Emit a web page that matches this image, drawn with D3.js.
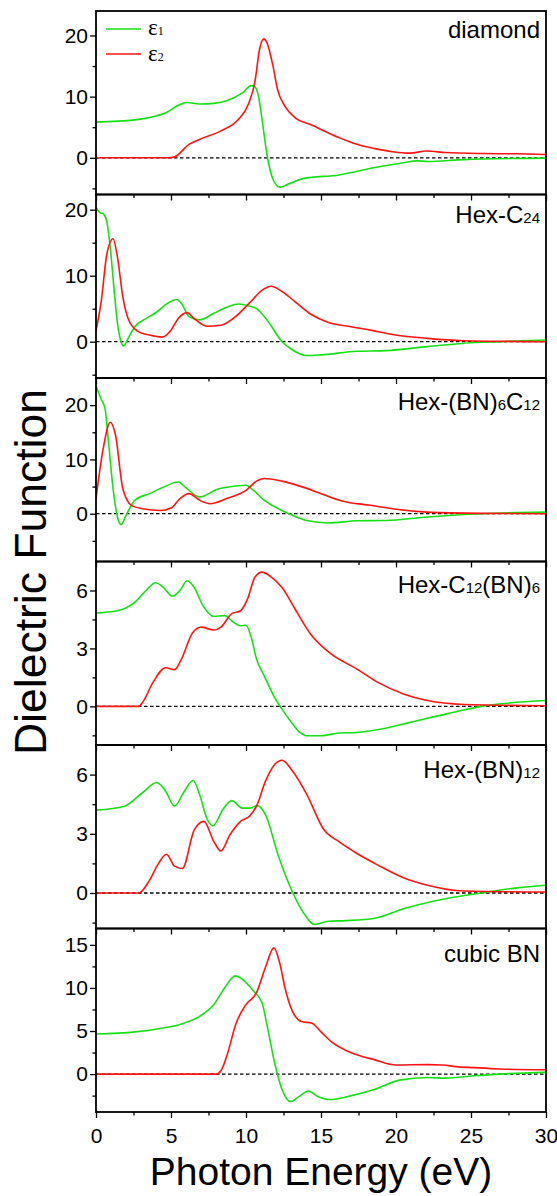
<!DOCTYPE html>
<html><head><meta charset="utf-8">
<script src="https://cdn.jsdelivr.net/npm/d3@7"></script>
<style>html,body{margin:0;padding:0;background:#fff;}svg{display:block;}</style>
</head><body><svg id="c" width="557" height="1196"></svg>
<script>
// ---------- DATA ----------
const xTicks = [0, 5, 10, 15, 20, 25, 30];
const xMinor = [2.5, 7.5, 12.5, 17.5, 22.5, 27.5];
const xTitle = "Photon Energy (eV)";
const yTitle = "Dielectric Function";
const seriesNames = ["ε1", "ε2"];

const panelNames = [
  [["diamond", 0]],
  [["Hex-C", 0], ["24", 1]],
  [["Hex-(BN)", 0], ["6", 1], ["C", 0], ["12", 1]],
  [["Hex-C", 0], ["12", 1], ["(BN)", 0], ["6", 1]],
  [["Hex-(BN)", 0], ["12", 1]],
  [["cubic BN", 0]]
];
const yDomains = [[-6, 24], [-5.5, 22.3], [-8.8, 25], [-2, 7.5], [-1.8, 7.5], [-4.4, 16.9]];
const yMajor = [[0, 10, 20], [0, 10, 20], [0, 10, 20], [0, 3, 6], [0, 3, 6], [0, 5, 10, 15]];
const yMinor = [[-5, 5, 15], [-5, 5, 15], [-5, 5, 15], [-1.5, 1.5, 4.5], [-1.5, 1.5, 4.5], [-2.5, 2.5, 7.5, 12.5]];

const diamondE1 = [[0,5.83],[2.6,6.2],[3.8,6.7],[4.76,7.5],[5.5,8.6],[6.07,9.05],[6.9,8.8],[7.86,8.9],[8.8,9.4],[9.76,10.6],[10.36,11.8],[10.6,11.6],[10.83,10.1],[11.07,6.3],[11.4,0.5],[11.8,-3.5],[12.26,-4.8],[12.86,-4.25],[13.8,-3.4],[16.2,-2.8],[18.6,-1.6],[20.5,-0.8],[21.4,-0.5],[22.1,-0.6],[24.5,-0.3],[30,-0.05]];
const diamondE2 = [[0,0],[4.8,0],[5.24,0.15],[6.2,2.2],[6.9,3.0],[8.33,4.4],[9.5,6.3],[10.2,9.0],[10.6,12.5],[10.9,17.7],[11.19,19.45],[11.4,18.8],[11.8,15.0],[12.1,11.2],[12.6,8.4],[13.3,6.5],[14.3,5.45],[16.2,3.3],[17.4,2.2],[18.6,1.5],[19.76,1.0],[20.95,0.76],[22,1.1],[23.3,0.87],[25.7,0.7],[28.1,0.65],[30,0.55]];

const hexC24E1 = [[0,20.35],[0.24,19.6],[0.52,19.3],[0.71,18.3],[0.95,14.3],[1.19,8.3],[1.43,2.8],[1.67,0],[1.86,-0.65],[2.14,0.5],[2.6,2.3],[3.33,3.5],[4.05,4.5],[4.76,5.8],[5.36,6.4],[5.7,5.8],[6.2,3.8],[6.9,3.3],[7.86,4.3],[8.8,5.3],[9.5,5.7],[10.2,5.4],[10.7,5.0],[11.4,3.3],[12.4,0],[13.1,-1.25],[14.05,-2.1],[15,-2.0],[17.4,-1.45],[19.3,-1.35],[22.1,-0.75],[25,-0.15],[26.9,0],[30,0.25]];
const hexC24E2 = [[0,1.65],[0.36,6.3],[0.71,13.1],[1.14,15.6],[1.43,12.8],[1.79,6.8],[2.14,3.5],[2.74,1.65],[3.57,1.0],[4.4,0.7],[5.0,1.75],[5.48,3.5],[6.07,4.4],[6.55,3.5],[7.38,2.35],[8.33,2.5],[9.3,3.8],[10.2,5.8],[11.2,8.0],[11.67,8.4],[12.4,7.6],[13.3,6.0],[14.3,4.2],[15.5,2.9],[16.9,2.3],[18.3,1.75],[19.76,1.1],[22.1,0.5],[24.5,0.15],[30,0]];

const bn6c12E1 = [[0,23.5],[0.36,21],[0.6,19.4],[0.83,13.3],[1.14,4.6],[1.43,-0.6],[1.67,-2.0],[2.0,-0.3],[2.6,2.5],[3.57,3.7],[4.5,4.9],[5.48,5.85],[5.95,4.9],[6.9,3.1],[8.1,4.5],[9.3,5.1],[10.0,5.25],[10.5,4.3],[11.2,2.5],[12.1,1.0],[12.86,0],[14.05,-1.25],[15.5,-1.7],[17.4,-1.3],[19.3,-1.25],[22.1,-0.6],[25.7,0],[30,0.3]];
const bn6c12E2 = [[0,2.8],[0.48,12],[0.95,16.85],[1.3,14.5],[1.79,4.6],[2.38,1.5],[3.1,0.93],[4.29,0.6],[5.0,1.05],[5.6,2.8],[6.2,3.7],[6.9,2.5],[7.6,1.85],[8.8,2.9],[10.0,4.3],[10.7,6.0],[11.2,6.5],[12.4,6.0],[13.8,4.9],[15.2,3.5],[16.4,2.35],[18.3,1.55],[19.76,0.93],[22.1,0.3],[25.7,0.06],[30,0]];

const c12bn6E1 = [[0,4.83],[1.43,4.95],[2.6,5.4],[3.33,6.0],[3.98,6.4],[4.5,6.15],[5.1,5.7],[5.6,6.0],[6.07,6.5],[6.55,6.15],[7.14,5.2],[7.86,4.65],[8.57,4.7],[9.17,4.35],[9.64,4.17],[10.0,4.2],[10.36,3.55],[10.7,2.45],[11.2,1.6],[11.9,0.47],[12.4,-0.14],[13.1,-0.9],[13.6,-1.35],[14.05,-1.52],[15,-1.52],[16.2,-1.38],[17.4,-1.35],[19.05,-1.17],[20.95,-0.83],[23.3,-0.4],[25.7,0],[30,0.3]];
const c12bn6E2 = [[0,0],[2.86,0],[3.1,0.2],[3.8,1.24],[4.64,2.0],[5.24,1.9],[5.7,2.45],[6.43,3.8],[7.02,4.1],[7.86,3.95],[8.33,4.1],[9.05,4.8],[9.64,4.95],[10.1,5.55],[10.6,6.7],[11.07,6.95],[11.67,6.7],[12.4,6.15],[13.3,5.0],[14.3,3.75],[15.7,2.7],[17.4,1.93],[18.8,1.24],[20.5,0.64],[22.1,0.3],[24.5,0.1],[30,0.03]];

const bn12E1 = [[0,4.2],[1.9,4.4],[3.1,5.08],[4.05,5.6],[4.64,5.16],[5.24,4.4],[5.83,5.08],[6.48,5.7],[6.9,5.0],[7.38,3.8],[7.8,3.4],[8.45,4.22],[9.05,4.68],[9.76,4.3],[10.24,4.3],[10.76,4.43],[11.3,3.97],[12.14,1.93],[13.1,0.05],[13.8,-0.97],[14.6,-1.6],[15.5,-1.43],[16.7,-1.4],[18.6,-1.28],[20.5,-0.8],[23.3,-0.29],[25.7,0],[28.1,0.26],[30,0.39]];
const bn12E2 = [[0,0],[2.86,0],[3.57,0.65],[4.17,1.5],[4.7,1.96],[5.24,1.36],[5.76,1.24],[6.55,3.2],[7.2,3.63],[7.86,2.6],[8.33,2.13],[8.93,2.95],[9.64,3.63],[10.24,3.9],[10.7,4.4],[11.3,5.67],[11.9,6.5],[12.4,6.73],[13.1,6.18],[14.05,5.0],[15.2,3.2],[16.2,2.6],[17.4,2.0],[18.8,1.41],[20.5,0.77],[22.1,0.39],[24.5,0.1],[30,0.05]];

const cbnE1 = [[0,4.65],[2.6,4.9],[4.29,5.3],[5.48,5.7],[6.9,6.7],[7.86,8.07],[8.57,10.0],[9.3,11.4],[9.76,11.0],[10.5,9.65],[11.07,8.27],[11.4,5.7],[11.9,1.38],[12.4,-1.77],[12.98,-3.2],[13.57,-2.56],[14.17,-1.97],[14.76,-2.56],[15.6,-2.95],[16.9,-2.56],[18.6,-1.77],[20.24,-0.7],[22.1,-0.4],[23.3,-0.47],[25.2,-0.2],[26.9,0],[30,0.2]];
const cbnE2 = [[0,0],[7.98,0],[8.33,0.4],[8.8,2.56],[9.3,5.7],[10.0,8.07],[10.7,9.45],[11.3,12.4],[11.86,14.65],[12.26,12.8],[12.6,10.0],[13.1,7.28],[13.7,6.1],[14.4,5.9],[15,4.9],[15.7,3.74],[16.9,2.56],[18.6,1.65],[20,1.06],[22.1,1.1],[23.1,1.06],[24.0,0.87],[25.2,0.75],[26.9,0.6],[30,0.5]];

const e1Series = [diamondE1, hexC24E1, bn6c12E1, c12bn6E1, bn12E1, cbnE1];
const e2Series = [diamondE2, hexC24E2, bn6c12E2, c12bn6E2, bn12E2, cbnE2];

// ---------- LAYOUT ----------
const green = "#14e014", red = "#ff1414";
const left = 96, right = 546, top0 = 11, ph = 183.5;
const labelOffsets = [27, 28, 32, 31, 33, 33];
const font = "'Liberation Sans', Arial, sans-serif";

const svg = d3.select("#c");
const x = d3.scaleLinear().domain([0, 30]).range([left, right]);
const line = d3.line().curve(d3.curveMonotoneX);

yDomains.forEach((dom, i) => {
  const top = top0 + i * ph, bottom = top + ph;
  const y = d3.scaleLinear().domain(dom).range([bottom, top]);
  const g = svg.append("g");
  const clipId = "clip" + i;
  svg.append("clipPath").attr("id", clipId).append("rect")
    .attr("x", left).attr("y", top).attr("width", right - left).attr("height", ph);

  g.append("line").attr("x1", left).attr("x2", right).attr("y1", y(0)).attr("y2", y(0))
    .attr("stroke", "#000").attr("stroke-width", 1.3).attr("stroke-dasharray", "3.5,2.5");

  const lg = g.append("g").attr("clip-path", `url(#${clipId})`);
  lg.append("path").attr("d", line.x(d => x(d[0])).y(d => y(d[1]))(e1Series[i]))
    .attr("fill", "none").attr("stroke", green).attr("stroke-width", 1.6);
  lg.append("path").attr("d", line.x(d => x(d[0])).y(d => y(d[1]))(e2Series[i]))
    .attr("fill", "none").attr("stroke", red).attr("stroke-width", 1.6);

  const ya = g.append("g").attr("transform", `translate(${left},0)`)
    .call(d3.axisLeft(y).tickValues(yMajor[i]).tickSize(6).tickPadding(2).tickFormat(d3.format("d")));
  ya.select(".domain").remove();
  ya.selectAll("text").attr("font-family", font).attr("font-size", 21).attr("fill", "#000");
  ya.selectAll("line").attr("stroke-width", 1.3);
  const ym = g.append("g").attr("transform", `translate(${left},0)`)
    .call(d3.axisLeft(y).tickValues(yMinor[i]).tickSize(3.5).tickFormat(""));
  ym.select(".domain").remove();
  ym.selectAll("line").attr("stroke-width", 1.3);

  const last = i === yDomains.length - 1;
  const xa = g.append("g").attr("transform", `translate(0,${bottom})`)
    .call(d3.axisBottom(x).tickValues(xTicks).tickSize(6).tickPadding(10)
      .tickFormat(last ? d3.format("d") : ""));
  xa.select(".domain").remove();
  xa.selectAll("text").attr("font-family", font).attr("font-size", 21).attr("fill", "#000");
  xa.selectAll("line").attr("stroke-width", 1.3);
  const xm = g.append("g").attr("transform", `translate(0,${bottom})`)
    .call(d3.axisBottom(x).tickValues(xMinor).tickSize(3.5).tickFormat(""));
  xm.select(".domain").remove();
  xm.selectAll("line").attr("stroke-width", 1.3);

  g.append("rect").attr("x", left).attr("y", top).attr("width", right - left).attr("height", ph)
    .attr("fill", "none").attr("stroke", "#000").attr("stroke-width", 1.8);

  const t = g.append("text").attr("x", 540).attr("y", top + labelOffsets[i])
    .attr("text-anchor", "end").attr("font-family", font).attr("font-size", 24).attr("fill", "#000");
  panelNames[i].forEach(([s, sub]) => {
    t.append("tspan").attr("font-size", sub ? 15 : 24).text(s);
  });
});

// legend
const legend = svg.append("g");
[[green, 29, 6], [red, 54, 7]].forEach(([c, ly, off], k) => {
  legend.append("line").attr("x1", 106).attr("x2", 141).attr("y1", ly).attr("y2", ly)
    .attr("stroke", c).attr("stroke-width", 1.6);
  const t = legend.append("text").attr("x", 148).attr("y", ly + off)
    .attr("font-family", "'Liberation Serif', 'Times New Roman', serif").attr("fill", "#000")
    .attr("font-size", 23);
  t.append("tspan").attr("font-size", 23).text(seriesNames[k][0]);
  t.append("tspan").attr("font-size", 12).text(seriesNames[k].slice(1));
});

// axis titles
svg.append("text").attr("x", (left + right) / 2).attr("y", 1185).attr("text-anchor", "middle")
  .attr("font-family", font).attr("font-size", 39).attr("fill", "#000").text(xTitle);
svg.append("text").attr("transform", "translate(46,572) rotate(-90)").attr("text-anchor", "middle")
  .attr("font-family", font).attr("font-size", 44.5).attr("fill", "#000").text(yTitle);
</script></body></html>
